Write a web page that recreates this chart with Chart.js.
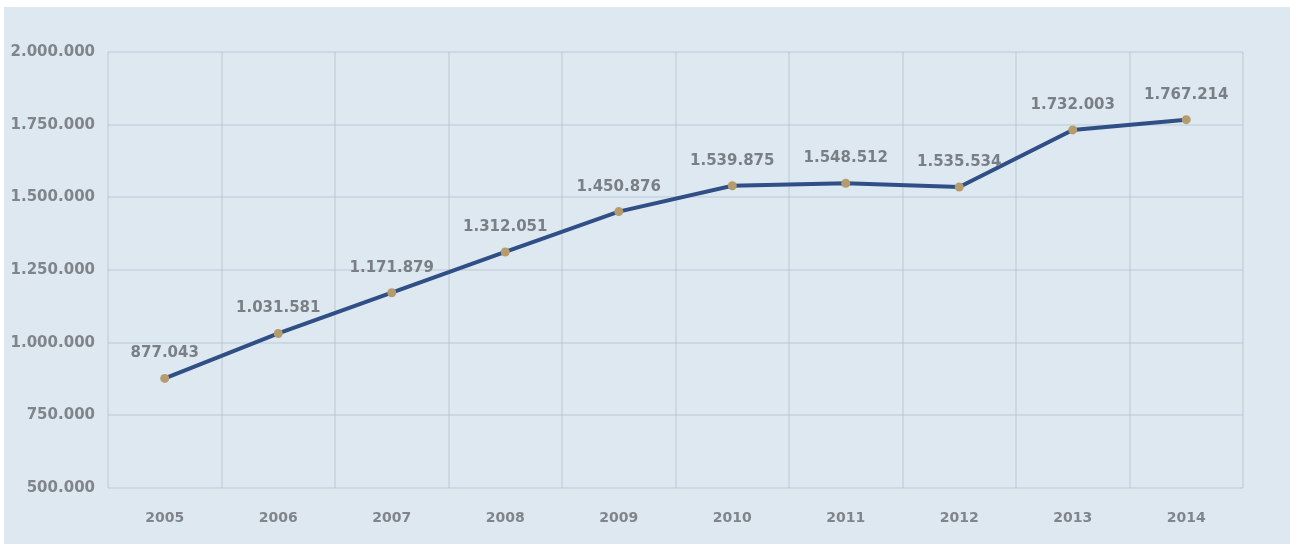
<!DOCTYPE html>
<html>
<head>
<meta charset="utf-8">
<script src="https://cdn.jsdelivr.net/npm/chart.js@4.4.0/dist/chart.umd.min.js"></script>
<style>
  html, body { margin: 0; padding: 0; background: #ffffff; }
  #wrap { position: absolute; left: 4px; top: 7px; width: 1286px; height: 537px; background: #dde8f0; }
</style>
</head>
<body>
<div id="wrap"><canvas id="visitors"></canvas></div>
<script>
// yearly totals
var years = ['2005', '2006', '2007', '2008', '2009', '2010', '2011', '2012', '2013', '2014'];
var totals = [877043, 1031581, 1171879, 1312051, 1450876, 1539875, 1548512, 1535534, 1732003, 1767214];
var yMin = 500000;
var yMax = 2000000;
var yStep = 250000;

function dotted(n) {
    return String(n).replace(/\B(?=(\d{3})+(?!\d))/g, '.');
}

// writes the value above each point
var valueLabels = {
    id: 'valueLabels',
    afterDatasetsDraw: function(chart) {
        var ctx = chart.ctx;
        var meta = chart.getDatasetMeta(0);
        ctx.save();
        ctx.font = 'bold 15px "DejaVu Sans"';
        ctx.fillStyle = '#7a7f86';
        ctx.textAlign = 'center';
        ctx.textBaseline = 'middle';
        meta.data.forEach(function(pt, i) {
            ctx.fillText(dotted(totals[i]), pt.x, pt.y - 25);
        });
        ctx.restore();
    }
};

var gridColor = 'rgba(175,188,202,0.38)';

var ctx = document.getElementById('visitors').getContext('2d');
var chart = new Chart(ctx, {
    type: 'line',
    data: {
        labels: years,
        datasets: [{
            data: totals,
            borderColor: '#2f4f86',
            borderWidth: 4,
            backgroundColor: '#b69c6c',
            pointBackgroundColor: '#b69c6c',
            pointBorderWidth: 0,
            pointRadius: 4.5,
            tension: 0
        }]
    },
    options: {
        responsive: true,
        maintainAspectRatio: false,
        animation: false,
        layout: { padding: { top: 45, right: 47, left: 0, bottom: 0 } },
        plugins: {
            legend: { display: false },
            tooltip: { enabled: false }
        },
        scales: {
            x: {
                offset: true,
                grid: { offset: true, color: gridColor, lineWidth: 2, drawTicks: false },
                border: { display: false },
                ticks: { color: '#80858c', font: { family: 'DejaVu Sans', size: 14, weight: 'bold' }, padding: 22 },
                afterFit: function(scale) { scale.height = 56; }
            },
            y: {
                min: yMin,
                max: yMax,
                grid: { color: gridColor, lineWidth: 2, drawTicks: false },
                border: { display: false },
                ticks: {
                    stepSize: yStep,
                    color: '#80858c',
                    font: { family: 'DejaVu Sans', size: 15, weight: 'bold' },
                    padding: 13,
                    callback: function(v) { return dotted(v); }
                },
                afterFit: function(scale) { scale.width = 104; }
            }
        }
    },
    plugins: [valueLabels]
});
</script>
</body>
</html>
